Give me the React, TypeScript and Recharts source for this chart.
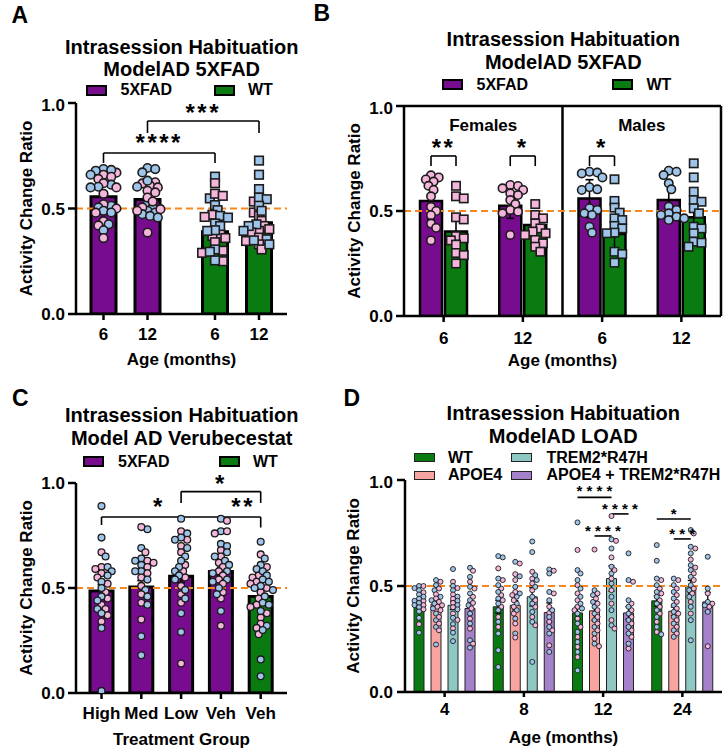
import React from 'react'
import { ComposedChart, Bar, Scatter, XAxis, YAxis, ReferenceLine, ReferenceDot, ErrorBar, Cell } from 'recharts'

const FONT = "'Liberation Sans', Arial, Helvetica, sans-serif"
const PURPLE = '#780c8f'
const GREEN = '#0a7b10'
const PINK = '#f4b6da'
const BLUE = '#9ec4ea'
const ORANGE = '#f7871f'
const SALMON = '#f8a5a1'
const TEAL = '#8fc7c3'
const LAVENDER = '#a481c9'

// ---- B: 5XFAD by sex (A pools the same animals) ----
const bSexes = ['Females', 'Males']
const bAges = ['6', '12', '6', '12']
const b5xfadMean = [0.548, 0.525, 0.559, 0.552]
const bWtMean = [0.402, 0.433, 0.39, 0.47]
const b5xfadSd = [0.09, 0.06, 0.09, 0.09]
const bWtSd = [0.08, 0.06, 0.08, 0.09]
const b5xfadPts = [
  [0.67, 0.66, 0.65, 0.64, 0.62, 0.6, 0.57, 0.52, 0.5, 0.48, 0.44, 0.42, 0.36],
  [0.624, 0.619, 0.608, 0.6, 0.584, 0.576, 0.552, 0.533, 0.505, 0.497, 0.489, 0.386],
  [0.687, 0.683, 0.679, 0.66, 0.613, 0.603, 0.6, 0.513, 0.505, 0.489, 0.481, 0.425, 0.397],
  [0.692, 0.687, 0.671, 0.632, 0.603, 0.521, 0.505, 0.489, 0.481, 0.473, 0.465, 0.457],
]
const bWtPts = [
  [0.62, 0.57, 0.56, 0.47, 0.46, 0.38, 0.37, 0.36, 0.34, 0.3, 0.29, 0.25],
  [0.533, 0.481, 0.465, 0.441, 0.417, 0.402, 0.394, 0.386, 0.362, 0.346, 0.33, 0.306],
  [0.651, 0.548, 0.516, 0.492, 0.465, 0.457, 0.429, 0.417, 0.397, 0.394, 0.306, 0.295, 0.254],
  [0.727, 0.66, 0.592, 0.552, 0.544, 0.513, 0.489, 0.425, 0.417, 0.394, 0.354, 0.349, 0.33],
]

// ---- A: pooled sexes ----
const aGenotypes = ['5XFAD', 'WT']
const aAges = ['6', '12']
const aMean6 = [0.556, 0.39]
const aMean12 = [0.543, 0.433]

// ---- C: verubecestat ----
const cGroups = ['High', 'Med', 'Low', 'Veh', 'Veh']
const cGenotype = ['5XFAD', '5XFAD', '5XFAD', '5XFAD', 'WT']
const cMean = [0.486, 0.505, 0.556, 0.579, 0.46]
const cSem = [0.03, 0.03, 0.03, 0.02, 0.02]
const cFemale = [
  [0.67, 0.6, 0.59, 0.57, 0.55, 0.52, 0.48, 0.45, 0.42, 0.4, 0.37, 0.34],
  [0.79, 0.67, 0.63, 0.62, 0.6, 0.57, 0.55, 0.51, 0.47, 0.43, 0.35],
  [0.77, 0.73, 0.7, 0.67, 0.61, 0.58, 0.55, 0.51, 0.47, 0.43, 0.14],
  [0.82, 0.77, 0.76, 0.68, 0.65, 0.62, 0.6, 0.58, 0.56, 0.54, 0.52, 0.48, 0.45, 0.32],
  [0.66, 0.6, 0.56, 0.55, 0.53, 0.52, 0.5, 0.48, 0.45, 0.42, 0.41, 0.38, 0.36, 0.33, 0.31, 0.28],
]
const cMale = [
  [0.89, 0.74, 0.65, 0.6, 0.58, 0.56, 0.53, 0.5, 0.46, 0.44, 0.4, 0.38, 0.31, 0.01],
  [0.78, 0.69, 0.64, 0.63, 0.61, 0.58, 0.58, 0.54, 0.49, 0.46, 0.42, 0.27, 0.18],
  [0.83, 0.76, 0.74, 0.73, 0.69, 0.65, 0.63, 0.6, 0.58, 0.56, 0.54, 0.49, 0.45, 0.38, 0.29],
  [0.83, 0.77, 0.71, 0.7, 0.67, 0.65, 0.63, 0.61, 0.58, 0.57, 0.54, 0.53, 0.5, 0.47, 0.39],
  [0.72, 0.64, 0.61, 0.59, 0.58, 0.56, 0.54, 0.53, 0.51, 0.5, 0.49, 0.46, 0.43, 0.42, 0.39, 0.32, 0.3, 0.16, 0.08],
]

// ---- D: LOAD ----
const dAges = ['4', '8', '12', '24']
const dGenotypes = ['WT', 'APOE4', 'TREM2*R47H', 'APOE4 + TREM2*R47H']
const dWtMean = [0.409, 0.402, 0.373, 0.43]
const dApoeMean = [0.414, 0.409, 0.383, 0.381]
const dTremMean = [0.409, 0.449, 0.535, 0.496]
const dBothMean = [0.394, 0.375, 0.373, 0.425]
const dWtSem = [0.012, 0.03, 0.03, 0.025]
const dApoeSem = [0.015, 0.022, 0.045, 0.02]
const dTremSem = [0.02, 0.043, 0.06, 0.03]
const dBothSem = [0.025, 0.045, 0.03, 0.045]
const dWtF = [
  [0.5, 0.47, 0.43, 0.41, 0.39, 0.32],
  [0.583, 0.528, 0.488, 0.457, 0.433, 0.402, 0.354, 0.307],
  [0.67, 0.504, 0.465, 0.433, 0.402, 0.386, 0.346, 0.307, 0.26, 0.213, 0.165],
  [0.528, 0.488, 0.465, 0.433, 0.402, 0.37, 0.331, 0.283],
]
const dWtM = [
  [0.5, 0.49, 0.48, 0.46, 0.45, 0.44, 0.43, 0.42, 0.41, 0.4, 0.38, 0.35, 0.28],
  [0.641, 0.635, 0.535, 0.504, 0.472, 0.441, 0.417, 0.386, 0.331, 0.276, 0.197, 0.118],
  [0.8, 0.575, 0.559, 0.528, 0.488, 0.449, 0.417, 0.394, 0.37, 0.323, 0.283, 0.236, 0.189, 0.102],
  [0.693, 0.619, 0.535, 0.504, 0.472, 0.449, 0.417, 0.386, 0.354, 0.307, 0.272],
]
const dApoeF = [
  [0.52, 0.488, 0.461, 0.441, 0.425, 0.409, 0.402, 0.386, 0.354, 0.323, 0.291],
  [0.606, 0.556, 0.528, 0.472, 0.457, 0.433, 0.402, 0.37, 0.323, 0.257],
  [0.672, 0.465, 0.441, 0.417, 0.386, 0.354, 0.323, 0.291, 0.252, 0.216],
  [0.528, 0.488, 0.457, 0.425, 0.394, 0.37, 0.339, 0.307, 0.276],
]
const dApoeM = [
  [0.528, 0.504, 0.48, 0.449, 0.433, 0.417, 0.394, 0.37, 0.339, 0.307, 0.224],
  [0.614, 0.546, 0.496, 0.465, 0.449, 0.417, 0.386, 0.346, 0.276],
  [0.48, 0.457, 0.425, 0.402, 0.37, 0.339, 0.307, 0.276, 0.228],
  [0.535, 0.504, 0.472, 0.441, 0.409, 0.378, 0.354, 0.323, 0.291, 0.26],
]
const dTremF = [
  [0.52, 0.49, 0.46, 0.44, 0.42, 0.4, 0.37, 0.34, 0.3],
  [0.567, 0.535, 0.512, 0.48, 0.433, 0.402, 0.354, 0.315],
  [0.83, 0.713, 0.635, 0.575, 0.535, 0.48, 0.417, 0.339, 0.299],
  [0.748, 0.677, 0.625, 0.587, 0.559, 0.528, 0.488, 0.465, 0.425, 0.37],
]
const dTremM = [
  [0.58, 0.5, 0.48, 0.45, 0.43, 0.41, 0.39, 0.35, 0.32, 0.28, 0.24],
  [0.71, 0.66, 0.551, 0.528, 0.496, 0.449, 0.417, 0.378, 0.331, 0.142],
  [0.72, 0.677, 0.591, 0.559, 0.512, 0.449, 0.386, 0.315],
  [0.764, 0.685, 0.654, 0.598, 0.575, 0.543, 0.504, 0.48, 0.449, 0.402, 0.339, 0.244],
]
const dBothF = [
  [0.572, 0.52, 0.488, 0.449, 0.42, 0.394, 0.346, 0.299, 0.228],
  [0.572, 0.465, 0.402, 0.373, 0.331, 0.291, 0.22],
  [0.52, 0.417, 0.386, 0.354, 0.323, 0.291, 0.26, 0.205],
  [0.465, 0.417, 0.402, 0.216],
]
const dBothM = [
  [0.586, 0.543, 0.496, 0.465, 0.433, 0.409, 0.37, 0.323, 0.244, 0.209],
  [0.578, 0.559, 0.472, 0.433, 0.386, 0.354, 0.307, 0.276, 0.189],
  [0.654, 0.528, 0.433, 0.402, 0.37, 0.339, 0.307, 0.276, 0.228],
  [0.638, 0.488, 0.425, 0.409, 0.378],
]

// ---------- helpers ----------
type Dot = { x: number; y: number; fill: string; kind: 'c' | 's' }

// centre of each bar inside a band, px from band centre (same rule recharts uses with barSize)
function barOffsets(band: number, n: number, size: number, gap: number) {
  const sum = n * size + (n - 1) * gap
  const start = Math.floor((band - sum) / 2)
  return Array.from({ length: n }, (_, k) => start + k * (size + gap) + size / 2 - band / 2)
}

// simple beeswarm: spread points sideways so they don't sit on top of each other
function swarm(vals: number[], r: number, ppu: number, tight: number) {
  const order = vals.map((_, i) => i).sort((a, b) => vals[b] - vals[a])
  const placed: [number, number][] = []
  const out = vals.map(() => 0)
  const minD = r * tight
  for (const i of order) {
    const y = vals[i] * ppu
    for (let k = 0; k < 80; k++) {
      const x = (k % 2 === 1 ? 1 : -1) * Math.ceil(k / 2) * r * 0.6
      if (placed.every(([px, py]) => Math.hypot(px - x, py - y) >= minD)) {
        placed.push([x, y])
        out[i] = x
        break
      }
    }
  }
  return out
}

function dotsFor(f: number[], m: number[], centre: number, band: number, r: number, ppu: number, kind: 'c' | 's', tight = 1.6): Dot[] {
  const vals: number[] = []
  const fills: string[] = []
  for (let i = 0; i < Math.max(f.length, m.length); i++) {
    if (i < m.length) { vals.push(m[i]); fills.push(BLUE) }
    if (i < f.length) { vals.push(f[i]); fills.push(PINK) }
  }
  const dx = swarm(vals, r, ppu, tight)
  return vals.map((v, i) => ({ x: centre + dx[i] / band, y: v, fill: fills[i], kind }))
}

const pointShape = (r: number, sw: number) => (p: any) => {
  const { cx, cy, payload } = p
  if (cx == null || cy == null) return <g />
  return payload.kind === 's'
    ? <rect x={cx - r} y={cy - r} width={2 * r} height={2 * r} fill={payload.fill} stroke="#1c1c1c" strokeWidth={sw} />
    : <circle cx={cx} cy={cy} r={r} fill={payload.fill} stroke="#1c1c1c" strokeWidth={sw} />
}

const axisLine = { stroke: '#000', strokeWidth: 2.5 }
const tickFont = { fontSize: 17, fontWeight: 700, fill: '#000', fontFamily: FONT }
const xTitle = (value: string, offset: number) => ({ value, position: 'insideBottom' as const, offset, fontSize: 17, fontWeight: 700, fill: '#000', fontFamily: FONT })
const yTitle = (offset: number) => ({
  value: 'Activity Change Ratio', angle: -90, position: 'insideLeft' as const, offset,
  fontSize: 17, fontWeight: 700, fill: '#000', fontFamily: FONT, style: { textAnchor: 'middle' },
})

function yAxis(width: number, margin: number) {
  return (
    <YAxis domain={[0, 1]} ticks={[0, 0.5, 1]} allowDataOverflow width={width} tickFormatter={(v: number) => v.toFixed(1)}
      tick={tickFont} tickSize={8} tickMargin={margin} axisLine={axisLine} tickLine={axisLine} label={yTitle(14)} />
  )
}

function bracket(key: string, x1: number, x2: number, y: number, drop1: number, drop2: number, w = 1.6) {
  return [
    <ReferenceLine key={key + 'h'} xAxisId="n" ifOverflow="visible" segment={[{ x: x1, y }, { x: x2, y }]} stroke="#000" strokeWidth={w} />,
    <ReferenceLine key={key + 'l'} xAxisId="n" ifOverflow="visible" segment={[{ x: x1, y }, { x: x1, y: drop1 }]} stroke="#000" strokeWidth={w} />,
    <ReferenceLine key={key + 'r'} xAxisId="n" ifOverflow="visible" segment={[{ x: x2, y }, { x: x2, y: drop2 }]} stroke="#000" strokeWidth={w} />,
  ]
}

function stars(key: string, x: number, y: number, text: string, size = 24, spacing = 2.5) {
  return (
    <ReferenceDot key={key} xAxisId="n" x={x} y={y} r={1} fill="none" stroke="none" ifOverflow="visible"
      label={{ value: text, position: 'center', fontSize: size, fontWeight: 700, fill: '#000', fontFamily: FONT, style: { letterSpacing: `${spacing}px` } }} />
  )
}

function halfLine(y: number) {
  return <ReferenceLine xAxisId="n" y={0.5} stroke={ORANGE} strokeWidth={2.2} strokeDasharray="7 4" ifOverflow="visible" key={'half' + y} />
}

// ---------- panel A ----------
const A_BAND = (211 + 12) / 2
const A_OFF = barOffsets(A_BAND, 2, 25, 19)
const aX = (g: number, k: number) => g + 0.5 + A_OFF[k] / A_BAND

function PanelA() {
  const data = aGenotypes.map((g, i) => ({ key: g, m6: aMean6[i], m12: aMean12[i] }))
  const female = [[b5xfadPts[0], b5xfadPts[1]], [bWtPts[0], bWtPts[1]]]
  const male = [[b5xfadPts[2], b5xfadPts[3]], [bWtPts[2], bWtPts[3]]]
  const dots: Dot[] = []
  aGenotypes.forEach((_, g) => aAges.forEach((_, k) => {
    dots.push(...dotsFor(female[g][k], male[g][k], aX(g, k), A_BAND, 4.3, 211, g === 0 ? 'c' : 's', 1.3))
  }))
  const ticks = [aX(0, 0), aX(0, 1), aX(1, 0), aX(1, 1)]
  const labels = aGenotypes.flatMap(() => aAges)
  const fills = [PURPLE, GREEN]
  return (
    <div style={{ position: 'absolute', left: 0, top: 95 }}>
      <ComposedChart width={300} height={280} data={data} margin={{ top: 8, right: 13, bottom: 0, left: 12 }} barGap={19}>
        <XAxis xAxisId="c" dataKey="key" hide height={0} padding={{ left: -6, right: -6 }} />
        <XAxis xAxisId="n" type="number" dataKey="x" domain={[0, 2]} allowDataOverflow padding={{ left: -6, right: -6 }}
          ticks={ticks} interval={0} tickFormatter={(_v: number, i: number) => labels[i]} height={61}
          tick={tickFont} tickSize={6} tickMargin={8} axisLine={axisLine} tickLine={axisLine} label={xTitle('Age (months)', 10)} />
        {yAxis(64, 3)}
        <Bar xAxisId="c" dataKey="m6" barSize={25} stroke="#000" strokeWidth={3} isAnimationActive={false}>
          {data.map((_, i) => <Cell key={i} fill={fills[i]} />)}
        </Bar>
        <Bar xAxisId="c" dataKey="m12" barSize={25} stroke="#000" strokeWidth={3} isAnimationActive={false}>
          {data.map((_, i) => <Cell key={i} fill={fills[i]} />)}
        </Bar>
        {halfLine(1)}
        <Scatter xAxisId="n" data={dots} dataKey="y" shape={pointShape(4.3, 1.6)} isAnimationActive={false} />
        {bracket('a1', aX(0, 0), aX(1, 0), 0.763, 0.716, 0.716)}
        {bracket('a2', aX(0, 1), aX(1, 1), 0.915, 0.858, 0.858)}
        {stars('s1', (aX(0, 0) + aX(1, 0)) / 2, 0.815, '****')}
        {stars('s2', (aX(0, 1) + aX(1, 1)) / 2, 0.957, '***')}
      </ComposedChart>
    </div>
  )
}

// ---------- panel B ----------
const B_BAND = 317 / 4
const B_OFF = barOffsets(B_BAND, 2, 22, 3)
const bX = (i: number, k: number) => i + 0.5 + B_OFF[k] / B_BAND

function PanelB() {
  const data = bAges.map((a, i) => ({ key: i, x5: b5xfadMean[i], wt: bWtMean[i], x5e: b5xfadSd[i], wte: bWtSd[i] }))
  const dots: Dot[] = []
  bAges.forEach((_, i) => {
    const female = i < 2
    dots.push(...dotsFor(female ? b5xfadPts[i] : [], female ? [] : b5xfadPts[i], bX(i, 0), B_BAND, 4.3, 210, 'c', 1.45))
    dots.push(...dotsFor(female ? bWtPts[i] : [], female ? [] : bWtPts[i], bX(i, 1), B_BAND, 4.3, 210, 's', 1.45))
  })
  const sigs = [['b1', 0, '**'], ['b2', 1, '*'], ['b3', 2, '*']] as const
  return (
    <div style={{ position: 'absolute', left: 340, top: 98 }}>
      <ComposedChart width={383} height={282} data={data} margin={{ top: 8, right: 2, bottom: 0, left: 0 }} barGap={3}>
        <XAxis xAxisId="c" dataKey="key" hide height={0} />
        <XAxis xAxisId="n" type="number" dataKey="x" domain={[0, 4]} allowDataOverflow
          ticks={[0.5, 1.5, 2.5, 3.5]} interval={0} tickFormatter={(_v: number, i: number) => bAges[i]} height={64}
          tick={tickFont} tickSize={6} tickMargin={10} axisLine={axisLine} tickLine={axisLine} label={xTitle('Age (months)', 14)} />
        {yAxis(64, 3)}
        <Bar xAxisId="c" dataKey="x5" barSize={22} fill={PURPLE} stroke="#000" strokeWidth={2.5} isAnimationActive={false}>
          <ErrorBar dataKey="x5e" width={4} stroke="#000" strokeWidth={1.6} />
        </Bar>
        <Bar xAxisId="c" dataKey="wt" barSize={22} fill={GREEN} stroke="#000" strokeWidth={2.5} isAnimationActive={false}>
          <ErrorBar dataKey="wte" width={4} stroke="#000" strokeWidth={1.6} />
        </Bar>
        <ReferenceLine xAxisId="n" x={2} stroke="#000" strokeWidth={2.5} />
        <ReferenceLine xAxisId="n" x={4} stroke="#000" strokeWidth={2.5} ifOverflow="visible" />
        <ReferenceLine xAxisId="n" y={1} stroke="#000" strokeWidth={2.5} ifOverflow="visible" />
        {halfLine(2)}
        <Scatter xAxisId="n" data={dots} dataKey="y" shape={pointShape(4.2, 1.6)} isAnimationActive={false} />
        {sigs.map(([k, i, t]) => [
          ...bracket(k, bX(i, 0), bX(i, 1), 0.762, 0.714, 0.714),
          stars(k + 's', (bX(i, 0) + bX(i, 1)) / 2, 0.802, t),
        ])}
        {bSexes.map((s, j) => (
          <ReferenceDot key={s} xAxisId="n" x={1 + 2 * j} y={0.91} r={1} fill="none" stroke="none"
            label={{ value: s, position: 'center', fontSize: 17, fontWeight: 700, fill: '#000', fontFamily: FONT }} />
        ))}
      </ComposedChart>
    </div>
  )
}

// ---------- panel C ----------
const C_PAD = 6
const C_BAND = (211 - 2 * C_PAD) / 5
const C_OFF = barOffsets(C_BAND, 1, 23, 0)
const cX = (i: number) => i + 0.5 + C_OFF[0] / C_BAND

function PanelC() {
  const data = cGroups.map((g, i) => ({ key: i, mean: cMean[i], err: cSem[i] }))
  const dots: Dot[] = cGroups.flatMap((_, i) => dotsFor(cFemale[i], cMale[i], cX(i), C_BAND, 3.4, 210, 'c', 1.5))
  return (
    <div style={{ position: 'absolute', left: 0, top: 463 }}>
      <ComposedChart width={300} height={285} data={data} margin={{ top: 20, right: 13, bottom: 0, left: 12 }}>
        <XAxis xAxisId="c" dataKey="key" hide height={0} padding={{ left: C_PAD, right: C_PAD }} />
        <XAxis xAxisId="n" type="number" dataKey="x" domain={[0, 5]} allowDataOverflow padding={{ left: C_PAD, right: C_PAD }}
          ticks={cGroups.map((_, i) => cX(i))} interval={0} tickFormatter={(_v: number, i: number) => cGroups[i]} height={55}
          tick={tickFont} tickSize={6} tickMargin={8} axisLine={axisLine} tickLine={axisLine} label={xTitle('Treatment Group', 3)} />
        {yAxis(64, 3)}
        <Bar xAxisId="c" dataKey="mean" barSize={23} stroke="#000" strokeWidth={3} isAnimationActive={false}>
          {data.map((_, i) => <Cell key={i} fill={cGenotype[i] === 'WT' ? GREEN : PURPLE} />)}
          <ErrorBar dataKey="err" width={4} stroke="#000" strokeWidth={1.5} />
        </Bar>
        {halfLine(3)}
        <Scatter xAxisId="n" data={dots} dataKey="y" shape={pointShape(3.4, 1.3)} isAnimationActive={false} />
        {bracket('c1', cX(0), cX(4), 0.838, 0.8, 0.788)}
        {bracket('c2', cX(2), cX(4), 0.959, 0.905, 0.905)}
        {stars('cs1', 1.93, 0.886, '*')}
        {stars('cs2', 4.05, 0.886, '**')}
        {stars('cs3', cX(3), 1.0, '*')}
      </ComposedChart>
    </div>
  )
}

// ---------- panel D ----------
const D_BAND = 317 / 4
const D_OFF = barOffsets(D_BAND, 4, 10, 7)
const dX = (i: number, k: number) => i + 0.5 + D_OFF[k] / D_BAND

function PanelD() {
  const data = dAges.map((a, i) => ({
    key: a, wt: dWtMean[i], apoe: dApoeMean[i], trem: dTremMean[i], both: dBothMean[i],
    wtE: dWtSem[i], apoeE: dApoeSem[i], tremE: dTremSem[i], bothE: dBothSem[i],
  }))
  const fem = [dWtF, dApoeF, dTremF, dBothF]
  const mal = [dWtM, dApoeM, dTremM, dBothM]
  const dots: Dot[] = []
  dAges.forEach((_, i) => fem.forEach((f, k) => dots.push(...dotsFor(f[i], mal[k][i], dX(i, k), D_BAND, 2.5, 212, 'c', 1.6))))
  const series = [['wt', 'wtE', GREEN], ['apoe', 'apoeE', SALMON], ['trem', 'tremE', TEAL], ['both', 'bothE', LAVENDER]] as const
  const lines = [
    [2, 0, 2, 0.918, 0.948, '* * * *'],
    [2, 2, 3, 0.84, 0.863, '* * * *'],
    [2, 1, 2, 0.736, 0.759, '* * * *'],
    [3, 0, 2, 0.816, 0.84, '*'],
    [3, 1, 2, 0.722, 0.745, '* * *'],
  ] as const
  return (
    <div style={{ position: 'absolute', left: 339, top: 472 }}>
      <ComposedChart width={384} height={276} data={data} margin={{ top: 8, right: 1, bottom: 0, left: 0 }} barGap={7}>
        <XAxis xAxisId="c" dataKey="key" hide height={0} />
        <XAxis xAxisId="n" type="number" dataKey="x" domain={[0, 4]} allowDataOverflow
          ticks={[0.5, 1.5, 2.5, 3.5]} interval={0} tickFormatter={(_v: number, i: number) => dAges[i]} height={56}
          tick={tickFont} tickSize={5} tickMargin={6} axisLine={axisLine} tickLine={axisLine} label={xTitle('Age (months)', 5)} />
        {yAxis(66, 4)}
        {series.map(([k, e, c]) => (
          <Bar key={k} xAxisId="c" dataKey={k} barSize={10} fill={c} stroke="#222" strokeWidth={1} isAnimationActive={false}>
            <ErrorBar dataKey={e} width={3} stroke="#000" strokeWidth={1.3} />
          </Bar>
        ))}
        {halfLine(4)}
        <Scatter xAxisId="n" data={dots} dataKey="y" shape={pointShape(2.5, 0.9)} isAnimationActive={false} />
        {lines.map(([i, k1, k2, y, ty, t], j) => [
          <ReferenceLine key={'dl' + j} xAxisId="n" ifOverflow="visible" segment={[{ x: dX(i, k1), y }, { x: dX(i, k2), y }]} stroke="#000" strokeWidth={1.6} />,
          stars('ds' + j, (dX(i, k1) + dX(i, k2)) / 2, ty, t, 15, 0),
        ])}
      </ComposedChart>
    </div>
  )
}

// ---------- text around the charts ----------
function Title({ cx, top, lines }: { cx: number; top: number; lines: string[] }) {
  return (
    <div style={{ position: 'absolute', left: cx - 160, top, width: 320, textAlign: 'center', fontSize: 20, fontWeight: 700, lineHeight: '22.5px', whiteSpace: 'nowrap' }}>
      {lines.map((l) => <div key={l}>{l}</div>)}
    </div>
  )
}

function Key({ x, y, textX, color, label, thin }: { x: number; y: number; textX: number; color: string; label: string; thin?: boolean }) {
  const h = thin ? 9 : 11
  return (
    <>
      <div style={{ position: 'absolute', left: x, top: y - h / 2, width: 21, height: h, boxSizing: 'border-box', background: color, border: thin ? '1px solid #222' : '2.5px solid #000' }} />
      <div style={{ position: 'absolute', left: textX, top: y - 7.8, fontSize: 16, fontWeight: 700, lineHeight: '16px', whiteSpace: 'nowrap' }}>{label}</div>
    </>
  )
}

function Letter({ x, top, ch }: { x: number; top: number; ch: string }) {
  return <div style={{ position: 'absolute', left: x, top, fontSize: 23, fontWeight: 700, lineHeight: '23px' }}>{ch}</div>
}

export default function App() {
  return (
    <div style={{ position: 'absolute', left: 0, top: 0, width: 723, height: 748, background: '#fff', fontFamily: FONT, color: '#000', overflow: 'hidden' }}>
      <PanelA />
      <PanelB />
      <PanelC />
      <PanelD />

      <Letter x={11.5} top={3.7} ch="A" />
      <Letter x={313.5} top={2} ch="B" />
      <Letter x={12} top={387} ch="C" />
      <Letter x={343.5} top={387} ch="D" />

      <Title cx={181.7} top={35.7} lines={['Intrasession Habituation', 'ModelAD 5XFAD']} />
      <Title cx={563.3} top={28.3} lines={['Intrasession Habituation', 'ModelAD 5XFAD']} />
      <Title cx={181.7} top={404} lines={['Intrasession Habituation', 'Model AD Verubecestat']} />
      <Title cx={563.3} top={402} lines={['Intrasession Habituation', 'ModelAD LOAD']} />

      <Key x={86} y={90} textX={120.5} color={PURPLE} label="5XFAD" />
      <Key x={214} y={90} textX={248} color={GREEN} label="WT" />
      <Key x={441.5} y={84.5} textX={476.5} color={PURPLE} label="5XFAD" />
      <Key x={611.5} y={84.5} textX={646.5} color={GREEN} label="WT" />
      <Key x={83} y={461.3} textX={118} color={PURPLE} label="5XFAD" />
      <Key x={218.5} y={461.3} textX={253} color={GREEN} label="WT" />

      <Key x={414} y={457.5} textX={448} color={GREEN} label={dGenotypes[0]} thin />
      <Key x={414} y={475} textX={448} color={SALMON} label={dGenotypes[1]} thin />
      <Key x={511} y={457.5} textX={546.5} color={TEAL} label={dGenotypes[2]} thin />
      <Key x={511} y={475} textX={546.5} color={LAVENDER} label={dGenotypes[3]} thin />
    </div>
  )
}
